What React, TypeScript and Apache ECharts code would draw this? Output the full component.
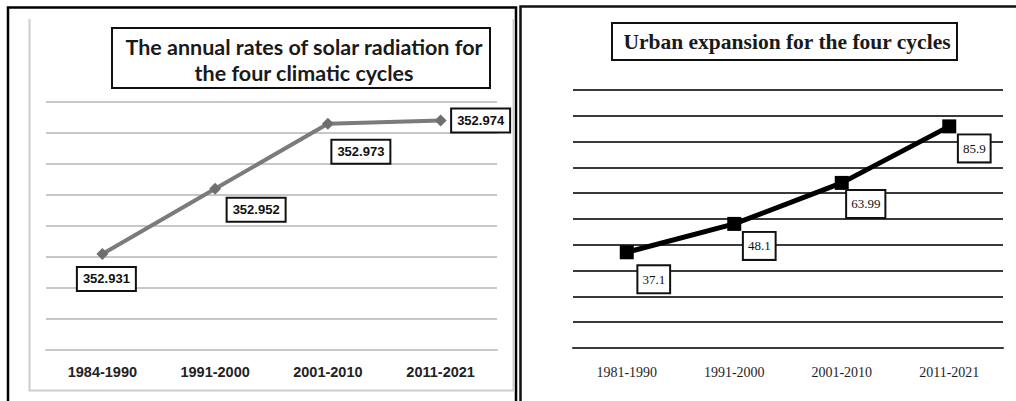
import React, { useEffect, useRef } from "react";
import * as echarts from "echarts";

// ---- Data ----
const solarCategories = ["1984-1990", "1991-2000", "2001-2010", "2011-2021"];
const solarValues = [352.931, 352.952, 352.973, 352.974];
const solarTitle = "The annual rates of solar radiation for\nthe four climatic cycles";

const urbanCategories = ["1981-1990", "1991-2000", "2001-2010", "2011-2021"];
const urbanValues = [37.1, 48.1, 63.99, 85.9];
const urbanTitle = "Urban expansion for the four cycles";

// label offsets (styling only)
const solarLabelOffsets = [[4, 25], [41, 21], [33, 28], [40, 0]];
const urbanLabelOffsets = [[27, 27], [25, 22], [24, 21], [25, 22]];

export default function App() {
  const ref = useRef<HTMLDivElement>(null);
  useEffect(() => {
    if (!ref.current) return;
    const chart = echarts.init(ref.current, null, { renderer: "svg" });
    const option: any = {
      animation: false,
      backgroundColor: "#fff",
      grid: [
        { left: 46, top: 102, width: 451, height: 248 },
        { left: 573, top: 90, width: 430, height: 258 },
      ],
      xAxis: [
        {
          type: "category",
          gridIndex: 0,
          data: solarCategories,
          boundaryGap: true,
          axisLine: { show: true, lineStyle: { color: "#c8c8c8", width: 2 } },
          axisTick: { show: false },
          axisLabel: {
            margin: 14,
            fontFamily: "Liberation Sans",
            fontWeight: "bold",
            fontSize: 14.5,
            color: "#222",
          },
        },
        {
          type: "category",
          gridIndex: 1,
          data: urbanCategories,
          boundaryGap: true,
          axisLine: { show: true, lineStyle: { color: "#3a3a3a", width: 2 } },
          axisTick: { show: false },
          axisLabel: {
            margin: 17,
            fontFamily: "Liberation Serif",
            fontSize: 14,
            color: "#1e1e1e",
          },
        },
      ],
      yAxis: [
        {
          type: "value",
          gridIndex: 0,
          min: 352.9,
          max: 352.98,
          interval: 0.01,
          axisLabel: { show: false },
          axisLine: { show: false },
          axisTick: { show: false },
          splitLine: { show: true, lineStyle: { color: "#c8c8c8", width: 2 } },
        },
        {
          type: "value",
          gridIndex: 1,
          min: 0,
          max: 100,
          interval: 10,
          axisLabel: { show: false },
          axisLine: { show: false },
          axisTick: { show: false },
          splitLine: { show: true, lineStyle: { color: "#3a3a3a", width: 2 } },
        },
      ],
      series: [
        {
          type: "line",
          xAxisIndex: 0,
          yAxisIndex: 0,
          data: solarValues.map((v, i) => ({
            value: v,
            label: { offset: solarLabelOffsets[i] },
          })),
          symbol: "diamond",
          symbolSize: 12,
          lineStyle: { color: "#7b7b7b", width: 4 },
          itemStyle: { color: "#6f6f6f" },
          label: {
            show: true,
            position: "inside",
            formatter: (p: any) => Number(p.value).toFixed(3),
            fontFamily: "Liberation Sans",
            fontWeight: "bold",
            fontSize: 13,
            color: "#111",
            backgroundColor: "#fff",
            borderColor: "#111",
            borderWidth: 2,
            padding: [5, 5, 4, 5],
          },
        },
        {
          type: "line",
          xAxisIndex: 1,
          yAxisIndex: 1,
          data: urbanValues.map((v, i) => ({
            value: v,
            label: { offset: urbanLabelOffsets[i] },
          })),
          symbol: "rect",
          symbolSize: 14,
          lineStyle: { color: "#000", width: 5 },
          itemStyle: { color: "#000" },
          label: {
            show: true,
            position: "inside",
            formatter: (p: any) => String(p.value),
            fontFamily: "Liberation Serif",
            fontSize: 13,
            color: "#111",
            backgroundColor: "#fff",
            borderColor: "#111",
            borderWidth: 2,
            padding: [7, 4, 6, 4],
          },
        },
      ],
      graphic: [
        // left outer black frame
        {
          type: "polyline",
          shape: { points: [[8, 401], [8, 7.5], [516, 7.5], [516, 401]] },
          style: { stroke: "#000", lineWidth: 2.5, fill: "none" },
          silent: true,
        },
        // left inner gray frame
        {
          type: "polyline",
          shape: { points: [[29.5, 19], [29.5, 390.5], [513.5, 390.5], [513.5, 19]] },
          style: { stroke: "#cdcdcd", lineWidth: 2, fill: "none" },
          silent: true,
        },
        // right outer frame
        {
          type: "polyline",
          shape: { points: [[520.5, 401], [520.5, 6.5], [1016, 6.5]] },
          style: { stroke: "#111", lineWidth: 2.5, fill: "none" },
          silent: true,
        },
        // left title box
        {
          type: "rect",
          shape: { x: 112, y: 28, width: 378, height: 60 },
          style: { stroke: "#111", lineWidth: 2, fill: "#fff" },
          silent: true,
        },
        {
          type: "text",
          x: 304,
          y: 60,
          style: {
            text: solarTitle,
            textAlign: "center",
            textVerticalAlign: "middle",
            fontFamily: "Lato",
            fontWeight: "bold",
            fontSize: 21.5,
            lineHeight: 26,
            fill: "#1a1a1a",
          },
          silent: true,
        },
        // right title box
        {
          type: "rect",
          shape: { x: 612, y: 23, width: 345, height: 37 },
          style: { stroke: "#111", lineWidth: 2, fill: "#fff" },
          silent: true,
        },
        {
          type: "text",
          x: 787,
          y: 42,
          style: {
            text: urbanTitle,
            textAlign: "center",
            textVerticalAlign: "middle",
            fontFamily: "Liberation Serif",
            fontWeight: "bold",
            fontSize: 21.5,
            fill: "#1a1a1a",
          },
          silent: true,
        },
      ],
    };
    chart.setOption(option);
    return () => chart.dispose();
  }, []);
  return (
    <div
      ref={ref}
      style={{ position: "fixed", left: 0, top: 0, width: 1016, height: 401 }}
    />
  );
}
